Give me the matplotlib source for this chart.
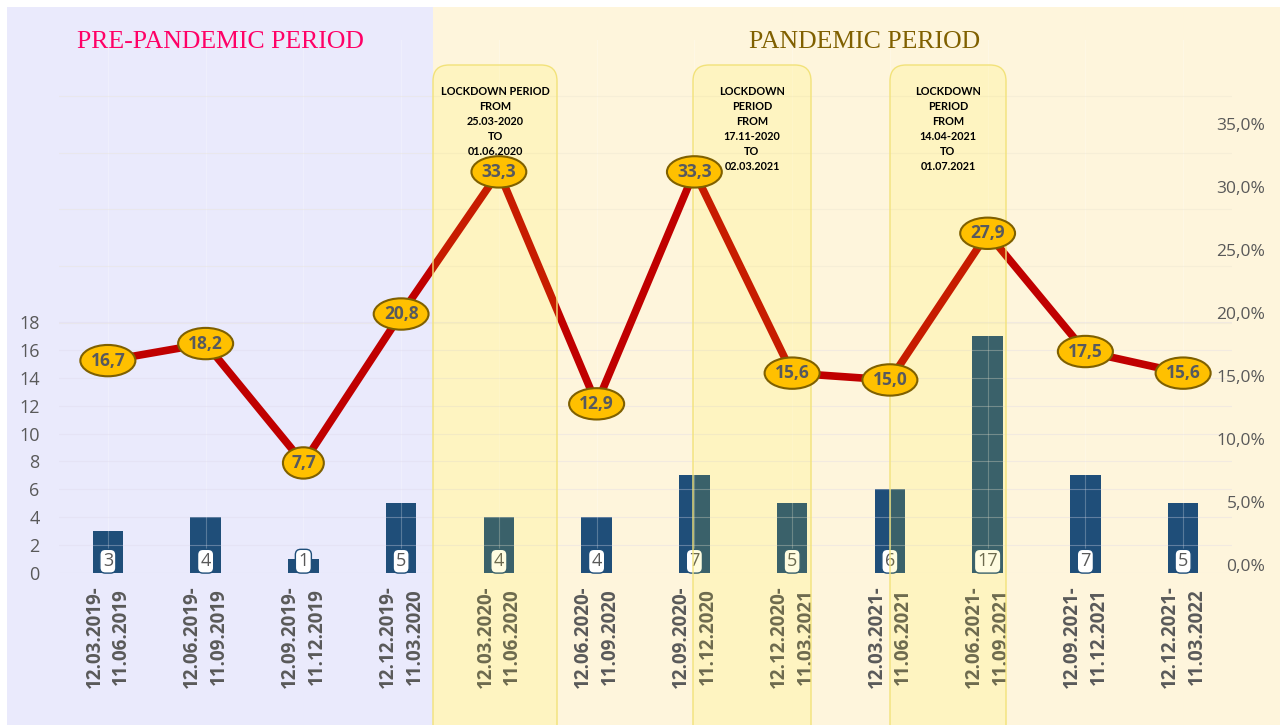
import matplotlib.pyplot as plt
from matplotlib.patches import Rectangle, FancyBboxPatch
from matplotlib.transforms import IdentityTransform
from matplotlib.ticker import FuncFormatter

# periods (x axis)
periods = ["12.03.2019-\n11.06.2019", "12.06.2019-\n11.09.2019", "12.09.2019-\n11.12.2019",
           "12.12.2019-\n11.03.2020", "12.03.2020-\n11.06.2020", "12.06.2020-\n11.09.2020",
           "12.09.2020-\n11.12.2020", "12.12.2020-\n11.03.2021", "12.03.2021-\n11.06.2021",
           "12.06.2021-\n11.09.2021", "12.09.2021-\n11.12.2021", "12.12.2021-\n11.03.2022"]
counts = [3, 4, 1, 5, 4, 4, 7, 5, 6, 17, 7, 5]
percent = [16.7, 18.2, 7.7, 20.8, 33.3, 12.9, 33.3, 15.6, 15.0, 27.9, 17.5, 15.6]
left_ticks = list(range(0, 19, 2))
right_ticks = [0, 5, 10, 15, 20, 25, 30, 35]
lockdowns = ["LOCKDOWN PERIOD\nFROM\n25.03-2020\nTO\n01.06.2020",
             "LOCKDOWN\nPERIOD\nFROM\n17.11-2020\nTO\n02.03.2021",
             "LOCKDOWN\nPERIOD\nFROM\n14.04-2021\nTO\n01.07.2021"]

W, H = 1283, 725
fig = plt.figure(figsize=(W / 100, H / 100), dpi=100)
fig.patch.set_facecolor("white")

# background panels
fig.patches.append(Rectangle((7 / W, 0), (433 - 7) / W, 1 - 7 / H, transform=fig.transFigure,
                             facecolor="#EAEAFC", edgecolor="none", zorder=-5))
fig.patches.append(Rectangle((433 / W, 0), (1280 - 433) / W, 1 - 7 / H, transform=fig.transFigure,
                             facecolor="#FEF5DC", edgecolor="none", zorder=-5))

ax = fig.add_axes([59 / W, 1 - 573 / H, (1232 - 59) / W, 533 / H])
ax.set_facecolor("none")
ax2 = ax.twinx()
ax3 = ax.twinx()

x = list(range(len(periods)))
gray = "#595959"

# bars
ax.bar(x, counts, width=0.31, color="#1F4E79", zorder=1)
for i, c in enumerate(counts):
    ax.text(i, 0.2, str(c), ha="center", va="bottom", fontsize=13, color=gray,
            family="Open Sans", zorder=4,
            bbox=dict(boxstyle="round,pad=0.16,rounding_size=0.3", fc="white", ec="#1F4E79", lw=1))
ax.set_xlim(-0.5, len(periods) - 0.5)
ax.set_ylim(0, 38.24)
ax.set_yticks(left_ticks)
ax.set_xticks(x)
ax.set_xticklabels(periods, rotation=90, fontsize=13.5, fontweight="bold", color=gray,
                   family="Open Sans", linespacing=1.45, multialignment="center")
ax.tick_params(axis="y", length=0, pad=14, labelsize=13, labelcolor=gray)
ax.tick_params(axis="x", length=0, pad=9)
for t in ax.get_yticklabels():
    t.set_family("Open Sans")
ax.grid(axis="y", color="#DCD8E8", lw=0.8, alpha=0.35)
ax.grid(axis="x", color="white", lw=0.8, alpha=0.25)
ax.set_axisbelow(False)
for s in ax.spines.values():
    s.set_visible(False)

# right percent axis labels
ax2.set_ylim(-0.635, 41.67)
ax2.set_yticks(right_ticks)
ax2.yaxis.set_major_formatter(FuncFormatter(lambda v, p: f"{v:.1f}%".replace(".", ",")))
ax2.tick_params(axis="y", length=0, pad=24, labelsize=12.5, labelcolor=gray)
for t in ax2.get_yticklabels():
    t.set_horizontalalignment("right")
    t.set_family("Open Sans")
for s in ax2.spines.values():
    s.set_visible(False)

# percentage line
ax3.set_ylim(-1.979, 44.9)
ax3.set_yticks([20, 25, 30, 35, 40])
ax3.tick_params(axis="y", length=0, labelright=False)
ax3.grid(axis="y", color="#E8E2D0", lw=0.8, alpha=0.35)
for s in ax3.spines.values():
    s.set_visible(False)
ax3.plot(x, percent, color="#C00000", lw=5.5, solid_joinstyle="miter", zorder=2)

# lockdown highlight boxes (pixel positions)
boxes = [(433, 557), (693, 811), (890, 1006)]
for (x0, x1), txt in zip(boxes, lockdowns):
    p = FancyBboxPatch((x0, -30), x1 - x0, H - 65 + 30,
                       boxstyle="round,pad=0,rounding_size=16",
                       fc=(1, 0.93, 0, 0.12), ec="#F2E27A", lw=1,
                       transform=IdentityTransform(), clip_on=False, zorder=2.5)
    ax3.add_artist(p)
    fig.text((x0 + x1) / 2 / W, 1 - 86 / H, txt, ha="center", va="top", fontsize=7.8,
             fontweight="bold", family="Lato", color="black", linespacing=1.45)

for i, v in enumerate(percent):
    ax3.text(i, v, f"{v:.1f}".replace(".", ","), ha="center", va="center",
             fontsize=12.5, fontweight="bold", color="#57595E", family="Open Sans", zorder=5,
             bbox=dict(boxstyle="ellipse,pad=0.12", fc="#FFC000", ec="#7F6000", lw=1.5))

# period titles
fig.text(220 / W, 1 - 42 / H, "PRE-PANDEMIC PERIOD", ha="center", va="center",
         fontsize=18.5, color="#FF0066", family="Liberation Serif")
fig.text(865 / W, 1 - 42 / H, "PANDEMIC PERIOD", ha="center", va="center",
         fontsize=18.5, color="#806000", family="Liberation Serif")

fig.savefig("out.png", dpi=100)
